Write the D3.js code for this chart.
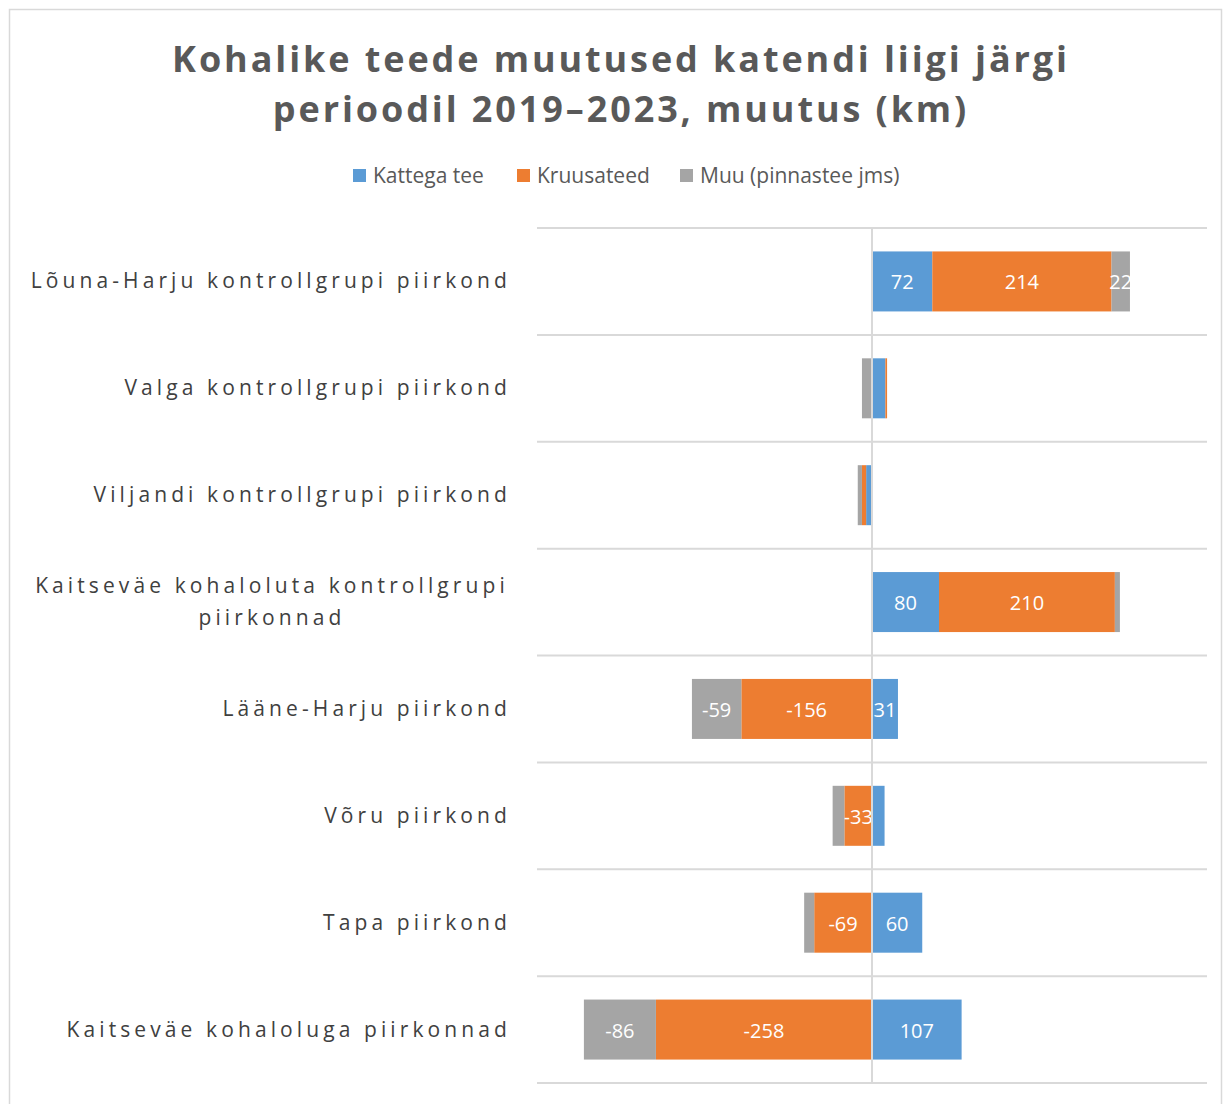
<!DOCTYPE html>
<html>
<head>
<meta charset="utf-8">
<script src="https://cdn.jsdelivr.net/npm/d3@7"></script>
<style>
  body { margin: 0; background: #fff; }
  text { font-family: "Open Sans", "Noto Sans", sans-serif; }
</style>
</head>
<body>
<div id="chart"></div>
<script>
// regions, top to bottom
var regions = [
  "Lõuna-Harju kontrollgrupi piirkond",
  "Valga kontrollgrupi piirkond",
  "Viljandi kontrollgrupi piirkond",
  "Kaitseväe kohaloluta kontrollgrupi piirkonnad",
  "Lääne-Harju piirkond",
  "Võru piirkond",
  "Tapa piirkond",
  "Kaitseväe kohaloluga piirkonnad"
];
var seriesNames = ["Kattega tee", "Kruusateed", "Muu (pinnastee jms)"];
var kattega = [72, 16, -7, 80, 31, 15, 60, 107];
var kruusa = [214, 2, -5, 210, -156, -33, -69, -258];
var muu = [22, -12, -5, 6, -59, -14, -12, -86];
// which values got a data label in the original
var showLabel = [
  [true, false, false, true, true, false, true, true],
  [true, false, false, true, true, true, true, true],
  [true, false, false, false, true, false, false, true]
];
var colors = ["#5b9bd5", "#ed7d31", "#a5a5a5"];

var W = 1225, H = 1104;
var svg = d3.select("#chart").append("svg")
  .attr("width", W).attr("height", H);

svg.append("rect")
  .attr("x", 9.5).attr("y", 9.5)
  .attr("width", 1212).attr("height", 1110)
  .attr("fill", "#fff").attr("stroke", "#d9d9d9").attr("stroke-width", 1.5);

// title
var title = svg.append("text")
  .attr("text-anchor", "middle")
  .attr("fill", "#595959")
  .style("font-size", "36px").style("font-weight", "bold")
  .style("letter-spacing", "2.9px");
title.append("tspan").attr("x", 621).attr("y", 72).text("Kohalike teede muutused katendi liigi järgi");
title.append("tspan").attr("x", 621).attr("y", 122).text("perioodil 2019–2023, muutus (km)");

// legend
var legendX = [353, 517, 680];
var legend = svg.selectAll(".leg").data(seriesNames).enter().append("g")
  .attr("transform", function(d, i) { return "translate(" + legendX[i] + ",169)"; });
legend.append("rect").attr("width", 13).attr("height", 13)
  .attr("fill", function(d, i) { return colors[i]; });
legend.append("text").attr("x", 20).attr("y", 14)
  .attr("fill", "#595959").style("font-size", "21px")
  .text(function(d) { return d; });

// scales
var x = d3.scaleLinear().domain([-400, 400]).range([537, 1207]);
var y = d3.scaleBand().domain(regions).range([228, 1083]).paddingInner(0).paddingOuter(0);

// gridlines between categories
svg.selectAll(".grid").data(d3.range(regions.length + 1)).enter().append("line")
  .attr("x1", 537).attr("x2", 1207)
  .attr("y1", function(i) { return 228 + i * y.bandwidth(); })
  .attr("y2", function(i) { return 228 + i * y.bandwidth(); })
  .attr("stroke", "#d9d9d9").attr("stroke-width", 2);

var table = regions.map(function(r, i) {
  return { region: r, s0: kattega[i], s1: kruusa[i], s2: muu[i] };
});
var stack = d3.stack().keys(["s0", "s1", "s2"]).offset(d3.stackOffsetDiverging);
var layers = stack(table);

var barH = 60;
layers.forEach(function(layer, si) {
  var g = svg.append("g");
  g.selectAll("rect").data(layer).enter().append("rect")
    .attr("x", function(d) { return x(Math.min(d[0], d[1])); })
    .attr("width", function(d) { return Math.abs(x(d[1]) - x(d[0])); })
    .attr("y", function(d) { return y(d.data.region) + (y.bandwidth() - barH) / 2; })
    .attr("height", barH)
    .attr("fill", colors[si]);
  g.selectAll("text").data(layer).enter().append("text")
    .filter(function(d, i) { return showLabel[si][i]; })
    .attr("x", function(d) { return x((d[0] + d[1]) / 2); })
    .attr("y", function(d) { return y(d.data.region) + y.bandwidth() / 2 + 8; })
    .attr("text-anchor", "middle").attr("fill", "#fff")
    .style("font-size", "20px")
    .text(function(d) { return d.data["s" + si]; });
});

// zero line
svg.append("line")
  .attr("x1", x(0)).attr("x2", x(0))
  .attr("y1", 228).attr("y2", 1083)
  .attr("stroke", "#d9d9d9").attr("stroke-width", 2);

// category labels
var wrapped = {"Kaitseväe kohaloluta kontrollgrupi piirkonnad": ["Kaitseväe kohaloluta kontrollgrupi", "piirkonnad"]};
regions.forEach(function(r) {
  var cy = y(r) + y.bandwidth() / 2;
  var t = svg.append("text").attr("fill", "#404040")
    .style("font-size", "21px").style("letter-spacing", "4.1px");
  if (wrapped[r]) {
    t.attr("text-anchor", "middle");
    t.append("tspan").attr("x", 272).attr("y", cy - 9).text(wrapped[r][0]);
    t.append("tspan").attr("x", 272).attr("y", cy + 23).text(wrapped[r][1]);
  } else {
    t.attr("text-anchor", "end").attr("x", 511).attr("y", cy + 7).text(r);
  }
});
</script>
</body>
</html>
